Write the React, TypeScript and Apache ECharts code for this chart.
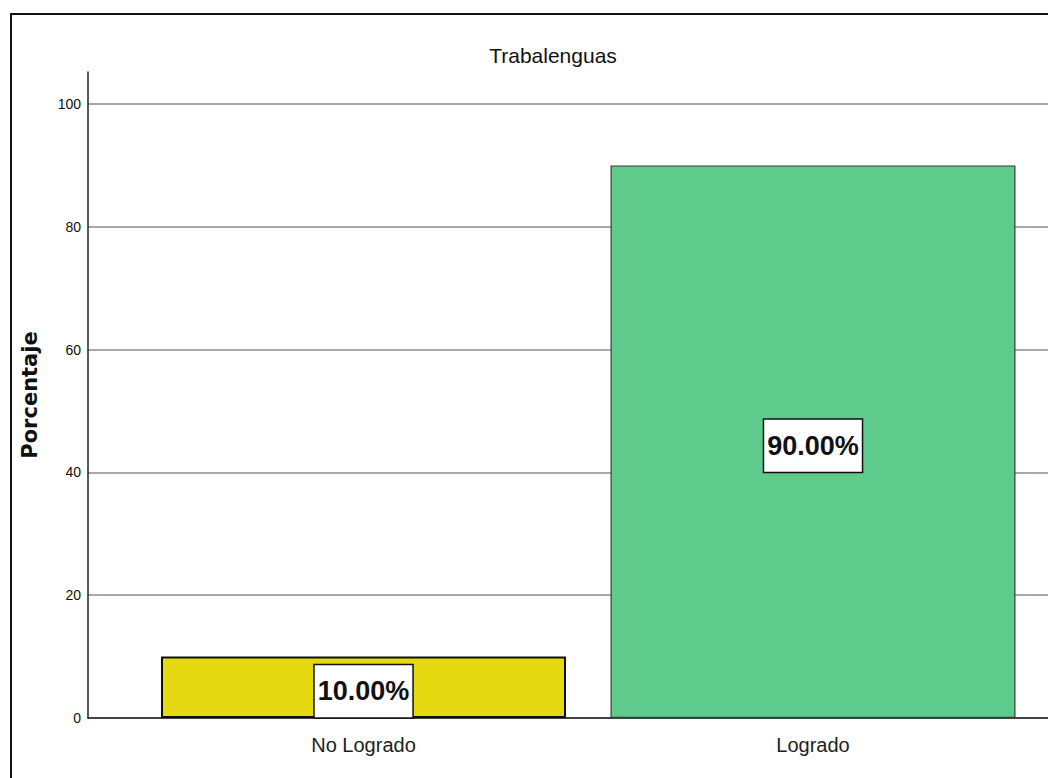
import React, { useEffect, useRef } from "react";
import * as echarts from "echarts";

const categories = ["No Logrado", "Logrado"];
const percentages = [10, 90];
const barColors = ["#E5D912", "#5ECB8C"];
const barBorders = ["#111111", "#3A3A3A"];
const yTicks = [0, 20, 40, 60, 80, 100];
const chartTitle = "Trabalenguas";
const yAxisName = "Porcentaje";

export default function App() {
  const ref = useRef<HTMLDivElement>(null);
  useEffect(() => {
    if (!ref.current) return;
    const chart = echarts.init(ref.current, undefined, { renderer: "svg" });
    const sans = "'Liberation Sans', Arial, sans-serif";
    chart.setOption({
      animation: false,
      backgroundColor: "#ffffff",
      title: {
        text: chartTitle,
        left: 548,
        textAlign: "center",
        top: 40,
        textStyle: { fontFamily: sans, fontSize: 21, fontWeight: "normal", color: "#111" },
      },
      graphic: [
        {
          type: "rect",
          shape: { x: 11, y: 14, width: 1100, height: 800 },
          style: { fill: "none", stroke: "#111", lineWidth: 2 },
          silent: true,
        },
      ],
      grid: [
        { left: 88, right: 0, top: 72, bottom: 60 },
        { left: 88, right: 0, top: 104, bottom: 60 },
        { left: 138.75, width: 899, top: 104, bottom: 60 },
      ],
      xAxis: [
        {
          gridIndex: 0, type: "value", min: 0, max: 1,
          axisLine: { show: true, lineStyle: { color: "#222", width: 1.5 } },
          axisTick: { show: false }, axisLabel: { show: false }, splitLine: { show: false },
        },
        {
          gridIndex: 1, type: "value", min: 0, max: 1, show: false,
        },
        {
          gridIndex: 2, type: "category", data: categories,
          axisLine: { show: false }, axisTick: { show: false }, splitLine: { show: false },
          axisLabel: { fontFamily: sans, fontSize: 20, color: "#222", margin: 17 },
        },
      ],
      yAxis: [
        {
          gridIndex: 0, type: "value", min: 0, max: 105,
          axisLine: { show: true, lineStyle: { color: "#222", width: 1.5 } },
          axisTick: { show: false }, axisLabel: { show: false }, splitLine: { show: false },
          name: yAxisName,
          nameLocation: "middle",
          nameGap: 48,
          nameTextStyle: { fontFamily: "'DejaVu Sans', sans-serif", fontSize: 21, fontWeight: "bold", color: "#111" },
        },
        {
          gridIndex: 1, type: "value", min: yTicks[0], max: yTicks[yTicks.length - 1], interval: 20,
          axisLine: { show: false }, axisTick: { show: false },
          axisLabel: { fontFamily: sans, fontSize: 14, color: "#111", margin: 7 },
          splitLine: { show: true, lineStyle: { color: "#A8A8A8", width: 2 } },
        },
        {
          gridIndex: 2, type: "value", min: 0, max: 100, show: false,
        },
      ],
      series: [
        {
          type: "bar",
          xAxisIndex: 2,
          yAxisIndex: 2,
          barWidth: 405,
          z: 5,
          data: percentages.map((v, i) => ({
            value: v,
            itemStyle: { color: barColors[i], borderColor: barBorders[i], borderWidth: i === 0 ? 2 : 1.2 },
          })),
          label: {
            show: true,
            position: "inside",
            offset: [0, 4],
            formatter: (p: any) => `${Number(p.value).toFixed(2)}%`,
            fontFamily: sans,
            fontSize: 27,
            fontWeight: "bold",
            color: "#111",
            backgroundColor: "#ffffff",
            borderColor: "#111",
            borderWidth: 1.5,
            padding: [7, 3, 5, 3],
            lineHeight: 40,
          },
        },
      ],
    });
    return () => chart.dispose();
  }, []);
  return (
    <div
      ref={ref}
      style={{ position: "absolute", left: 0, top: 0, width: 1048, height: 778 }}
    />
  );
}
